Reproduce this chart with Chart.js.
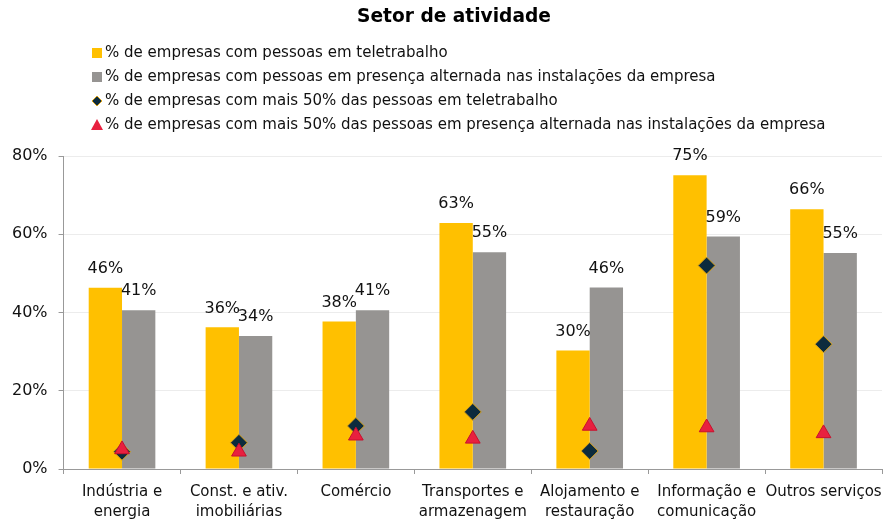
<!DOCTYPE html>
<html>
<head>
<meta charset="utf-8">
<script src="https://cdn.jsdelivr.net/npm/chart.js@4"></script>
<style>
  html, body { margin: 0; padding: 0; background: #fff; }
  #wrap { width: 884px; height: 522px; }
</style>
</head>
<body>
<div id="wrap"><canvas id="myChart" width="884" height="522"></canvas></div>
<script>
// data
let sectors = [
    ['Indústria e', 'energia'],
    ['Const. e ativ.', 'imobiliárias'],
    'Comércio',
    ['Transportes e', 'armazenagem'],
    ['Alojamento e', 'restauração'],
    ['Informação e', 'comunicação'],
    'Outros serviços'
];
let teletrabalho = [46.3, 36.2, 37.7, 62.9, 30.3, 75.1, 66.4];
let alternada = [40.6, 34.0, 40.6, 55.4, 46.4, 59.4, 55.2];
let mais50Tele = [4.4, 6.7, 11.0, 14.6, 4.6, 52.0, 31.9];
let mais50Alt = [5.0, 4.4, 8.5, 7.7, 11.0, 10.6, 9.1];
let yTicks = [0, 20, 40, 60, 80];

let chartTitle = 'Setor de atividade';
let legendNames = [
    '% de empresas com pessoas em teletrabalho',
    '% de empresas com pessoas em presença alternada nas instalações da empresa',
    '% de empresas com mais 50% das pessoas em teletrabalho',
    '% de empresas com mais 50% das pessoas em presença alternada nas instalações da empresa'
];

const YELLOW = '#FFC000';
const GREY = '#969492';
const NAVY = '#0c2b3d';
const GOLD = '#d9a21b';
const RED = '#e8203f';
const FONT = "'DejaVu Sans', Verdana, sans-serif";

// percentage labels above the bars
let barLabels = {
    id: 'barLabels',
    afterDatasetsDraw(chart) {
        let ctx = chart.ctx;
        ctx.save();
        ctx.font = '16px ' + FONT;
        ctx.fillStyle = '#111';
        ctx.textAlign = 'center';
        ctx.textBaseline = 'middle';
        [0, 1].forEach(function (di) {
            let meta = chart.getDatasetMeta(di);
            let vals = chart.data.datasets[di].data;
            meta.data.forEach(function (bar, i) {
                ctx.fillText(Math.round(vals[i]) + '%', bar.x, bar.y - 19);
            });
        });
        ctx.restore();
    }
};

// title + legend stacked on the left, drawn by hand
let headBlock = {
    id: 'headBlock',
    afterDraw(chart) {
        let ctx = chart.ctx;
        ctx.save();
        ctx.font = 'bold 18.6px ' + FONT;
        ctx.fillStyle = '#000';
        ctx.textAlign = 'center';
        ctx.textBaseline = 'middle';
        ctx.fillText(chartTitle, 454, 17);

        ctx.textAlign = 'left';
        ctx.font = '15px ' + FONT;
        let x = 92, y0 = 53, step = 24;
        legendNames.forEach(function (name, i) {
            let y = y0 + i * step;
            if (i === 0 || i === 1) {
                ctx.fillStyle = i === 0 ? YELLOW : GREY;
                ctx.fillRect(x, y - 5, 10, 10);
            } else if (i === 2) {
                ctx.beginPath();
                ctx.moveTo(x + 5, y - 5);
                ctx.lineTo(x + 10, y);
                ctx.lineTo(x + 5, y + 5);
                ctx.lineTo(x, y);
                ctx.closePath();
                ctx.fillStyle = NAVY;
                ctx.fill();
                ctx.strokeStyle = GOLD;
                ctx.lineWidth = 1;
                ctx.stroke();
            } else {
                ctx.beginPath();
                ctx.moveTo(x + 5, y - 6);
                ctx.lineTo(x + 11, y + 5);
                ctx.lineTo(x - 1, y + 5);
                ctx.closePath();
                ctx.fillStyle = RED;
                ctx.fill();
            }
            ctx.fillStyle = '#111';
            ctx.fillText(name, x + 13, y);
        });
        ctx.restore();
    }
};

let ctx = document.getElementById('myChart').getContext('2d');
let myChart = new Chart(ctx, {
    type: 'bar',
    data: {
        labels: sectors,
        datasets: [{
            label: legendNames[0],
            data: teletrabalho,
            backgroundColor: YELLOW,
            order: 3,
            categoryPercentage: 0.57,
            barPercentage: 1.0
        }, {
            label: legendNames[1],
            data: alternada,
            backgroundColor: GREY,
            order: 3,
            categoryPercentage: 0.57,
            barPercentage: 1.0
        }, {
            type: 'line',
            label: legendNames[2],
            data: mais50Tele,
            showLine: false,
            pointStyle: 'rectRot',
            pointRadius: 8.5,
            pointBackgroundColor: NAVY,
            pointBorderColor: GOLD,
            pointBorderWidth: 1,
            order: 2
        }, {
            type: 'line',
            label: legendNames[3],
            data: mais50Alt,
            showLine: false,
            pointStyle: 'triangle',
            pointRadius: 8.5,
            pointBackgroundColor: RED,
            pointBorderColor: '#c8102e',
            pointBorderWidth: 1,
            order: 1
        }]
    },
    options: {
        responsive: false,
        animation: false,
        layout: { autoPadding: false, padding: { top: 156, left: 1, right: 2, bottom: 0 } },
        plugins: {
            legend: { display: false },
            tooltip: { enabled: false },
            title: { display: false }
        },
        scales: {
            x: {
                offset: true,
                grid: {
                    display: true,
                    offset: true,
                    drawOnChartArea: false,
                    tickLength: 5,
                    tickColor: '#999'
                },
                border: { color: '#999', width: 1 },
                ticks: {
                    color: '#111',
                    maxRotation: 0,
                    autoSkip: false,
                    padding: 8,
                    font: { family: FONT, size: 15, lineHeight: 1.35 }
                },
                afterFit: function (axis) {
                    // labels may run to the canvas edge like the original
                    axis.paddingLeft = 0;
                    axis.paddingRight = 0;
                    axis.height = 53;
                }
            },
            y: {
                min: 0,
                max: 80,
                afterBuildTicks: function (axis) {
                    axis.ticks = yTicks.map(v => ({ value: v }));
                },
                grid: {
                    color: '#ececec',
                    tickLength: 5,
                    tickColor: '#999'
                },
                border: { color: '#999', width: 1 },
                ticks: {
                    color: '#111',
                    padding: 11,
                    font: { family: FONT, size: 16 },
                    callback: v => v + '%'
                }
            }
        }
    },
    plugins: [barLabels, headBlock]
});
</script>
</body>
</html>
